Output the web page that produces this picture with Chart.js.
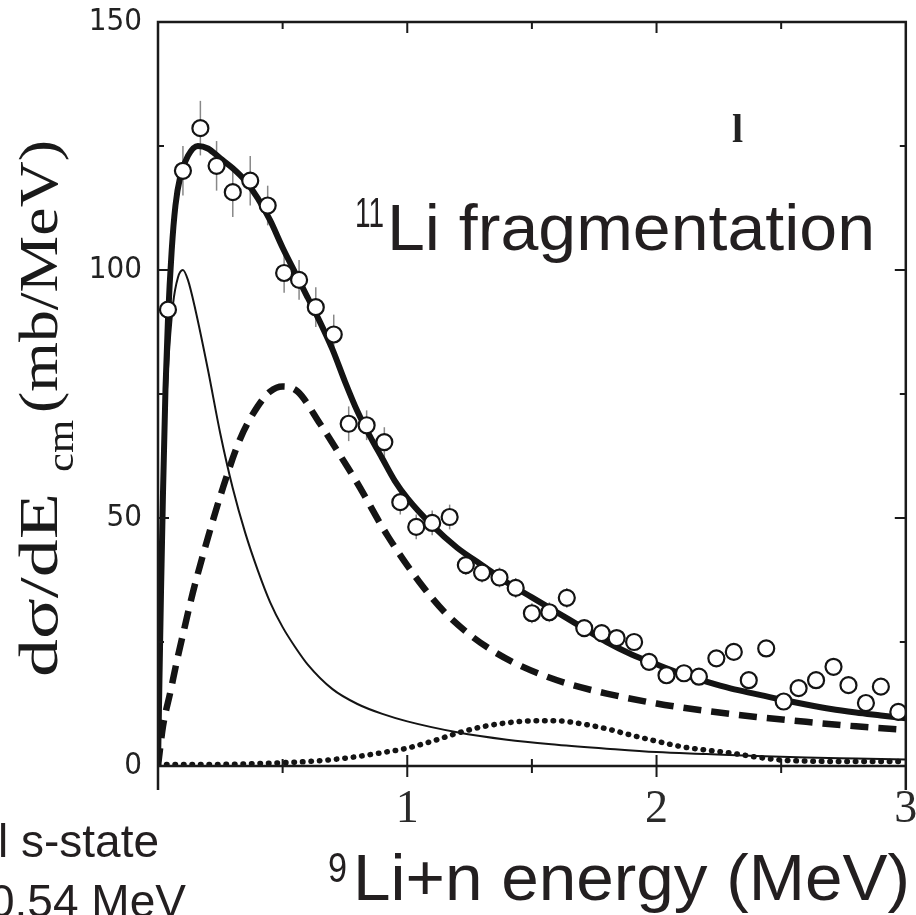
<!DOCTYPE html>
<html>
<head>
<meta charset="utf-8">
<script src="https://cdn.jsdelivr.net/npm/chart.js@4.4.1/dist/chart.umd.min.js"></script>
<style>
html,body{margin:0;padding:0;background:#fff;overflow:hidden;}
#wrap{width:916px;height:915px;}
</style>
</head>
<body>
<div id="wrap"><canvas id="c" width="916" height="915"></canvas></div>
<script>
// ---- data ----
const expX = [0.04,0.10,0.17,0.235,0.30,0.37,0.44,0.506,0.566,0.633,0.705,0.765,0.837,0.908,0.972,1.036,1.10,1.17,1.235,1.30,1.37,1.435,1.50,1.57,1.64,1.71,1.78,1.84,1.91,1.97,2.04,2.11,2.17,2.24,2.31,2.37,2.44,2.51,2.57,2.64,2.71,2.77,2.84,2.90,2.97];
const expY = [92,120,128.6,121,115.7,118,113,99.4,98,92.5,87,69,68.7,65.3,53.2,48.2,49,50.2,40.5,39,38,35.9,30.8,31,33.9,27.8,26.8,25.8,25,21,18.3,18.7,18,21.7,23,17.3,23.7,13,15.7,17.3,20,16.3,12.7,16,10.9];
const expErr = [3,5,5.5,5,5,5,4,4,4,4,4,3.5,3,3,2.5,2.5,2.5,2.5,2,2,2,2,2,2,2,1.5,1.5,1.5,1.5,1.5,1.5,1.5,1.5,1.5,1.5,1.5,1.5,1.5,1.5,1.5,1.5,1.5,1.5,1.5,1.5];

const totalX = [0,0.005,0.012,0.02,0.03,0.04,0.055,0.07,0.09,0.12,0.16,0.2,0.25,0.3,0.35,0.4,0.45,0.5,0.55,0.6,0.65,0.7,0.75,0.8,0.85,0.9,0.95,1.0,1.1,1.2,1.3,1.4,1.5,1.6,1.7,1.8,1.9,2.0,2.1,2.2,2.3,2.4,2.5,2.6,2.7,2.8,2.9,3.0];
const totalY = [0,15,35,55,76,90,104,113,119,123,125,124.5,122.5,120.5,118,114.5,110,104.5,99.5,94.5,89.5,84,77.5,71.5,66.5,62,57.5,54,48.5,44,40.5,37,34,31,28,25,22.5,20.5,18.6,17,15.6,14.5,13.4,12.4,11.5,10.8,10.2,9.6];

const sX = [0,0.01,0.02,0.03,0.04,0.06,0.08,0.1,0.12,0.15,0.2,0.25,0.3,0.35,0.4,0.45,0.5,0.55,0.6,0.7,0.8,0.9,1.0,1.2,1.4,1.6,1.8,2.0,2.2,2.4,2.6,2.8,3.0];
const sY = [0,30,52,68,80,93,98.5,100,98,92,80,67,56,47,39.5,33,28,24,20.5,15.5,12.5,10.5,9,6.8,5.3,4.3,3.5,2.8,2.4,2.0,1.7,1.5,1.3];

const dX = [0,0.02,0.05,0.075,0.1,0.14,0.2,0.26,0.33,0.4,0.45,0.5,0.56,0.65,0.72,0.8,0.92,1.05,1.15,1.25,1.35,1.45,1.55,1.65,1.8,2.0,2.2,2.4,2.6,2.8,3.0];
const dY = [0,8,15,21,26.5,35,46,56,66,72.5,75.5,76.5,75.5,69,63.5,57,46.5,37,31,26.5,23,20.3,18.2,16.5,14.6,12.6,11.1,9.9,8.9,8.0,7.3];

const pX = [0,0.2,0.4,0.6,0.7,0.8,0.9,1.0,1.1,1.2,1.3,1.4,1.5,1.6,1.7,1.8,1.9,2.0,2.1,2.2,2.3,2.4,2.5,2.6,2.8,3.0];
const pY = [0.3,0.3,0.5,0.9,1.3,1.9,2.7,3.6,5,6.6,7.9,8.7,9.1,9.1,8.5,7.5,6.2,5.0,3.9,3.2,2.6,1.8,1.2,1.0,0.9,0.9];

const xTickValues = [1, 2, 3];
const xTickLabels = ['1', '2', '3'];
const yTickLabels = {0:'0',50:'50',100:'100',150:'150'};

const pts = (xs, ys) => xs.map((x,i)=>({x:x, y:ys[i]}));
const INK = '#141414';
const TXT = '#231f20';

const framePlugin = {
  id:'frame',
  beforeDatasetsDraw(chart){
    const ctx = chart.ctx, xs = chart.scales.x, ys = chart.scales.y;
    ctx.save();
    ctx.strokeStyle = '#888';
    ctx.lineWidth = 1.5;
    expX.forEach((x,i)=>{
      const px = xs.getPixelForValue(x);
      ctx.beginPath();
      ctx.moveTo(px, ys.getPixelForValue(expY[i]-expErr[i]));
      ctx.lineTo(px, ys.getPixelForValue(expY[i]+expErr[i]));
      ctx.stroke();
    });
    ctx.restore();
  },
  afterDatasetsDraw(chart){
    const ctx = chart.ctx, a = chart.chartArea, xs = chart.scales.x, ys = chart.scales.y;
    ctx.save();
    ctx.strokeStyle = '#1a1a1a';
    ctx.lineWidth = 2.5;
    ctx.beginPath();
    ctx.moveTo(a.left, a.bottom + 24); ctx.lineTo(a.left, a.top); ctx.lineTo(a.right, a.top); ctx.lineTo(a.right, a.bottom + 24);
    ctx.moveTo(a.left, a.bottom); ctx.lineTo(a.right, a.bottom);
    ctx.stroke();
    ctx.lineWidth = 2;
    ctx.beginPath();
    for (let v = 0.5; v < 3; v += 0.5) {
      const px = xs.getPixelForValue(v);
      const major = Math.abs(v - Math.round(v)) < 1e-6;
      const L = major ? 11 : 7;
      ctx.moveTo(px, a.bottom + L); ctx.lineTo(px, a.bottom - L);
      ctx.moveTo(px, a.top); ctx.lineTo(px, a.top + L);
    }
    for (let v = 25; v < 150; v += 25) {
      const py = ys.getPixelForValue(v);
      const L = (v % 50 === 0) ? 11 : 6;
      ctx.moveTo(a.left, py); ctx.lineTo(a.left + L, py);
      ctx.moveTo(a.right, py); ctx.lineTo(a.right - L, py);
    }
    ctx.stroke();
    // x tick labels (placed through the x scale)
    ctx.fillStyle = '#2a2a2a';
    ctx.font = '46px "Liberation Serif", "Times New Roman", serif';
    ctx.textAlign = 'center';
    ctx.textBaseline = 'alphabetic';
    xTickValues.forEach((v, i) => {
      ctx.fillText(xTickLabels[i], xs.getPixelForValue(v), a.bottom + 56);
    });
    ctx.restore();
  },
  afterDraw(chart){
    const ctx = chart.ctx;
    function fit(text, x, y, font, w){
      ctx.save();
      ctx.font = font;
      const m = ctx.measureText(text).width;
      ctx.translate(x, y);
      ctx.scale(w / m, 1);
      ctx.textAlign = 'left';
      ctx.textBaseline = 'alphabetic';
      ctx.fillText(text, 0, 0);
      ctx.restore();
    }
    ctx.save();
    ctx.fillStyle = TXT;
    // in-plot annotations
    fit('11', 355, 227, '42px "Liberation Sans", Arial, sans-serif', 29);
    fit('Li fragmentation', 387, 250, '64px "Liberation Sans", Arial, sans-serif', 488);
    ctx.font = 'bold 40px "Liberation Serif", "Times New Roman", serif';
    ctx.fillStyle = '#222';
    ctx.fillText('l', 732, 142);
    // x axis title
    ctx.fillStyle = TXT;
    fit('9', 328, 882, '42px "Liberation Sans", Arial, sans-serif', 19);
    fit('Li+n energy (MeV)', 353, 900, '64px "Liberation Sans", Arial, sans-serif', 557);
    // bottom-left note (cropped in the reference)
    ctx.font = '46px "Liberation Sans", Arial, sans-serif';
    ctx.fillText('l s-state', -2, 857);
    ctx.fillText('0.54 MeV', -11, 917);
    ctx.restore();
    // rotated y axis title
    ctx.save();
    ctx.fillStyle = '#1a1a1a';
    ctx.translate(57, 677);
    ctx.rotate(-Math.PI / 2);
    fit('d\u03C3/dE', 0, 0, '54px "Liberation Serif", "Times New Roman", serif', 184);
    fit('cm', 205, 16, '38px "Liberation Serif", "Times New Roman", serif', 52);
    fit('(mb/MeV)', 264, 0, '54px "Liberation Serif", "Times New Roman", serif', 273);
    ctx.restore();
  }
};

new Chart(document.getElementById('c'), {
  type: 'scatter',
  data: {
    datasets: [
      { label:'data', data: pts(expX, expY), showLine:false, pointRadius:8, pointHoverRadius:8,
        pointBackgroundColor:'#fff', pointBorderColor:INK, pointBorderWidth:2.2 },
      { label:'total', data: pts(totalX, totalY), showLine:true, pointRadius:0, borderColor:INK,
        borderWidth:6, cubicInterpolationMode:'monotone', fill:false },
      { label:'s-state', data: pts(sX, sY), showLine:true, pointRadius:0, borderColor:INK,
        borderWidth:2, cubicInterpolationMode:'monotone', fill:false },
      { label:'p-state', data: pts(dX, dY), showLine:true, pointRadius:0, borderColor:INK,
        borderWidth:6.5, borderDash:[18,10], cubicInterpolationMode:'monotone', fill:false },
      { label:'d-state', data: pts(pX, pY), showLine:true, pointRadius:0, borderColor:INK,
        borderWidth:5.5, borderDash:[0.5,8], borderCapStyle:'round', cubicInterpolationMode:'monotone', fill:false }
    ]
  },
  options: {
    responsive:false,
    animation:false,
    devicePixelRatio:1,
    layout:{ padding:{ top:22, right:4, left:0, bottom:0 } },
    plugins:{ legend:{display:false}, tooltip:{enabled:false} },
    scales:{
      x:{
        type:'linear', min:0, max:3,
        grid:{ display:false, drawTicks:false },
        border:{ display:false },
        ticks:{ display:false, stepSize:0.5 },
        afterFit:(s)=>{ s.height = 149; s.paddingLeft = 0; s.paddingRight = 0; }
      },
      y:{
        type:'linear', min:0, max:150,
        grid:{ display:false, drawTicks:false },
        border:{ display:false },
        ticks:{ stepSize:25, autoSkip:false, padding:16, color:'#222',
          font:{ family:'"Liberation Sans Narrow", "DejaVu Sans Condensed", Arial, sans-serif', size:31 },
          callback:(v)=> yTickLabels[v] || '' },
        afterFit:(s)=>{ s.width = 158; s.paddingTop = 0; s.paddingBottom = 0; }
      }
    }
  },
  plugins:[framePlugin]
});
</script>
</body>
</html>
